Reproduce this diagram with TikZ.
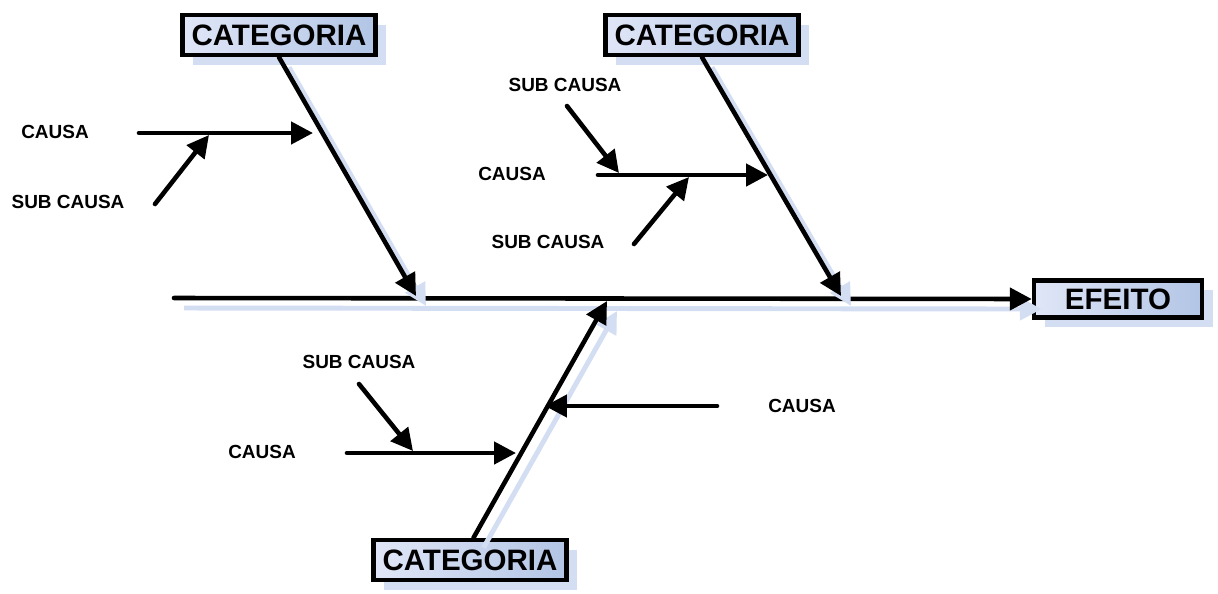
\documentclass[tikz,border=0pt]{standalone}
\usepackage{fontspec}
\setmainfont{Liberation Sans}
\usetikzlibrary{arrows.meta,shadows,positioning}
\definecolor{boxlight}{RGB}{224,230,247}
\definecolor{boxdark}{RGB}{178,197,229}
\definecolor{shadowblue}{RGB}{212,222,243}

\begin{document}
\begin{tikzpicture}[
    x=0.02cm, y=-0.02cm,
    category/.style={rectangle, draw=black, line width=2.6pt, left color=boxlight, right color=boxdark, minimum width=3.86cm, minimum height=0.8cm, font=\fontsize{16.8}{18}\selectfont\bfseries, drop shadow={shadow xshift=6pt, shadow yshift=-5.5pt, fill=shadowblue, opacity=1}},
    effect/.style={category, minimum width=3.36cm, minimum height=0.74cm},
    cause/.style={font=\fontsize{10.8}{13}\selectfont\bfseries},
    arrow/.style={-{Triangle[length=12.5pt, width=12.5pt]}, line width=2.6pt, line cap=round},
    shade/.style={preaction={draw=shadowblue, line width=2.8pt, transform canvas={xshift=5.7pt, yshift=-5.7pt}}}
]
\useasboundingbox (0,0) rectangle (1218,593);

% categories and effect
\node[category] (cat1) at (279,35) {CATEGORIA};
\node[category] (cat2) at (702,35) {CATEGORIA};
\node[category] (cat3) at (470,560) {CATEGORIA};
\node[effect] (effect) at (1118,299) {EFEITO};

% spine and bones
\coordinate (tail) at (174,298);
\coordinate (j1) at (416,296);
\coordinate (j2) at (841,296);
\coordinate (j3) at (607,301);
\draw[arrow, shade] (tail) -- (effect.west);
\draw[arrow, shade] (cat1.south) -- (j1);
\draw[arrow, shade] (cat2.south) -- (j2);
\draw[arrow, shade] ([xshift=2]cat3.north) -- (j3);

% labels
\node[cause] (lc1) at (55,132) {CAUSA};
\node[cause] (ls1) at (68,202) {SUB CAUSA};
\node[cause] (ls2) at (565,85) {SUB CAUSA};
\node[cause] (lc2) at (512,174) {CAUSA};
\node[cause] (ls3) at (548,242) {SUB CAUSA};
\node[cause] (ls4) at (359,362) {SUB CAUSA};
\node[cause] (lc3) at (262,452) {CAUSA};
\node[cause] (lc4) at (802,406) {CAUSA};

% causes, upper left
\coordinate (c1a) at (139,133);
\coordinate (c1b) at (313,133);
\coordinate (s1a) at (155,204);
\coordinate (s1b) at (209,135);
\draw[arrow] (c1a) -- (c1b);
\draw[arrow] (s1a) -- (s1b);

% causes, upper right
\coordinate (c2a) at (598,175);
\coordinate (c2b) at (768,175);
\coordinate (s2a) at (567,106);
\coordinate (s2b) at (619,173);
\coordinate (s3a) at (634,244);
\coordinate (s3b) at (689,177);
\draw[arrow] (c2a) -- (c2b);
\draw[arrow] (s2a) -- (s2b);
\draw[arrow] (s3a) -- (s3b);

% causes, bottom
\coordinate (c3a) at (347,453);
\coordinate (c3b) at (516,453);
\coordinate (c4a) at (717,406);
\coordinate (c4b) at (545,406);
\coordinate (s4a) at (359,384);
\coordinate (s4b) at (413,451);
\draw[arrow] (c3a) -- (c3b);
\draw[arrow] (c4a) -- (c4b);
\draw[arrow] (s4a) -- (s4b);

\end{tikzpicture}
\end{document}
